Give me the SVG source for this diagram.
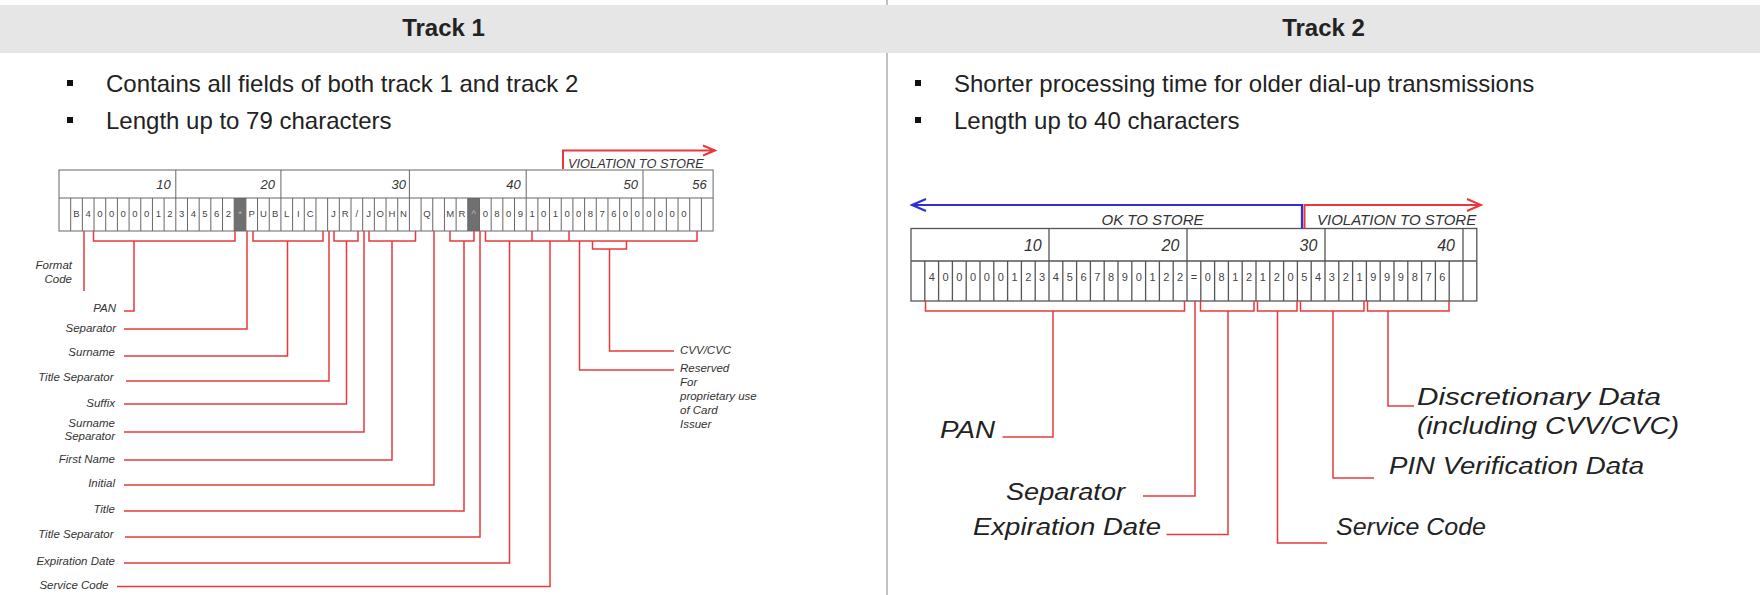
<svg xmlns="http://www.w3.org/2000/svg" width="1760" height="595" viewBox="0 0 1760 595">
<style>
.bg{fill:#ffffff}
.band{fill:#e6e6e6}
.title{font-family:"Liberation Sans",Arial,sans-serif;font-weight:bold;font-size:24px;fill:#222;text-anchor:middle}
.bul{font-family:"Liberation Sans",Arial,sans-serif;font-size:24px;fill:#222}
.sq{fill:#111}
.grid{fill:none;stroke:#666;stroke-width:1}
.gridb{fill:none;stroke:#555;stroke-width:1.3}
.dark{fill:#707070}
.c1{font-family:"Liberation Sans",Arial,sans-serif;font-size:9.5px;fill:#444;text-anchor:middle}
.c1d{font-family:"Liberation Sans",Arial,sans-serif;font-size:9.5px;fill:#bbb;text-anchor:middle}
.h1{font-family:"Liberation Sans",Arial,sans-serif;font-style:italic;font-size:13px;fill:#333;text-anchor:end}
.c2{font-family:"Liberation Sans",Arial,sans-serif;font-size:11px;fill:#444;text-anchor:middle}
.h2{font-family:"Liberation Sans",Arial,sans-serif;font-style:italic;font-size:16px;fill:#333;text-anchor:end}
.l1{font-family:"Liberation Sans",Arial,sans-serif;font-style:italic;font-size:11.5px;fill:#333;text-anchor:end}
.l1s{font-family:"Liberation Sans",Arial,sans-serif;font-style:italic;font-size:11.5px;fill:#333}
.l2{font-family:"Liberation Sans",Arial,sans-serif;font-style:italic;font-size:24.5px;fill:#222;text-anchor:end}
.l2s{font-family:"Liberation Sans",Arial,sans-serif;font-style:italic;font-size:24.5px;fill:#222}
.v1{font-family:"Liberation Sans",Arial,sans-serif;font-style:italic;font-size:12.8px;fill:#333}
.v2{font-family:"Liberation Sans",Arial,sans-serif;font-style:italic;font-size:15px;fill:#333}
.red{fill:none;stroke:#e8383d;stroke-width:1.5}
.blue{fill:none;stroke:#2f2fd8;stroke-width:2.2}
.redA{fill:none;stroke:#e8383d;stroke-width:2}
</style>
<rect class="bg" x="0" y="0" width="1760" height="595"/>
<line x1="887" y1="0" x2="887" y2="595" stroke="#999" stroke-width="1.2"/>
<g id="header">
<rect class="band" x="0" y="5" width="1760" height="48"/>
<text class="title" x="443.5" y="36">Track 1</text>
<text class="title" x="1323.5" y="36">Track 2</text>
</g>
<g id="track1-bullets">
<rect class="sq" x="67" y="80" width="6" height="6"/>
<text class="bul" x="106" y="91.5">Contains all fields of both track 1 and track 2</text>
<rect class="sq" x="67" y="117" width="6" height="6"/>
<text class="bul" x="106" y="128.5">Length up to 79 characters</text>
</g>
<g id="track2-bullets">
<rect class="sq" x="915" y="80" width="6" height="6"/>
<text class="bul" x="954" y="91.5">Shorter processing time for older dial-up transmissions</text>
<rect class="sq" x="915" y="117" width="6" height="6"/>
<text class="bul" x="954" y="128.5">Length up to 40 characters</text>
</g>
<g id="track1-grid">
<rect class="dark" x="234.2" y="198" width="11.68" height="33"/>
<rect class="dark" x="467.8" y="198" width="11.68" height="33"/>
<rect class="grid" x="59" y="170" width="654.1" height="61"/>
<path class="grid" d="M59,198H713.1M175.8,170V198M280.92,170V198M409.4,170V198M526.2,170V198M643,170V198"/>
<path class="grid" d="M70.68,198V231M82.36,198V231M94.04,198V231M105.72,198V231M117.4,198V231M129.08,198V231M140.76,198V231M152.44,198V231M164.12,198V231M175.8,198V231M187.48,198V231M199.16,198V231M210.84,198V231M222.52,198V231M234.2,198V231M245.88,198V231M257.56,198V231M269.24,198V231M280.92,198V231M292.6,198V231M304.28,198V231M315.96,198V231M327.64,198V231M339.32,198V231M351,198V231M362.68,198V231M374.36,198V231M386.04,198V231M397.72,198V231M409.4,198V231M421.08,198V231M432.76,198V231M444.44,198V231M456.12,198V231M467.8,198V231M479.48,198V231M491.16,198V231M502.84,198V231M514.52,198V231M526.2,198V231M537.88,198V231M549.56,198V231M561.24,198V231M572.92,198V231M584.6,198V231M596.28,198V231M607.96,198V231M619.64,198V231M631.32,198V231M643,198V231M654.68,198V231M666.36,198V231M678.04,198V231M689.72,198V231M701.4,198V231"/>
<text class="h1" x="170.7" y="188.5">10</text>
<text class="h1" x="275" y="188.5">20</text>
<text class="h1" x="406" y="188.5">30</text>
<text class="h1" x="520.7" y="188.5">40</text>
<text class="h1" x="638" y="188.5">50</text>
<text class="h1" x="706.7" y="188.5">56</text>
<text class="c1" y="217" x="76.52 88.2 99.88 111.56 123.24 134.92 146.6 158.28 169.96 181.64 193.32 205 216.68 228.36">B4000001234562</text>
<text class="c1" y="217" x="251.72 263.4 275.08 286.76 298.44 310.12">PUBLIC</text>
<text class="c1" y="217" x="333.48 345.16 356.84 368.52 380.2 391.88 403.56">JR/JOHN</text>
<text class="c1" y="217" x="426.92">Q</text>
<text class="c1" y="217" x="450.28 461.96">MR</text>
<text class="c1" y="217" x="485.32 497 508.68 520.36">0809</text>
<text class="c1" y="217" x="532.04 543.72 555.4 567.08 578.76 590.44 602.12 613.8 625.48 637.16">1010087600</text>
<text class="c1" y="217" x="648.84 660.52 672.2 683.88">0000</text>
<text class="c1d" y="217" x="240.04">*</text>
<text class="c1d" y="217" x="473.64">^</text>
</g>
<g id="track1-violation">
<text class="v1" x="568" y="167.5">VIOLATION TO STORE</text>
</g>
<g id="track1-labels">
<text class="l1" x="72" y="269">Format</text>
<text class="l1" x="72" y="283">Code</text>
<text class="l1" x="116" y="311.5">PAN</text>
<text class="l1" x="116" y="331.5">Separator</text>
<text class="l1" x="115" y="356">Surname</text>
<text class="l1" x="113.5" y="381">Title Separator</text>
<text class="l1" x="115" y="406.5">Suffix</text>
<text class="l1" x="115" y="427">Surname</text>
<text class="l1" x="115" y="439.5">Separator</text>
<text class="l1" x="115" y="463">First Name</text>
<text class="l1" x="115" y="486.5">Initial</text>
<text class="l1" x="115" y="512.5">Title</text>
<text class="l1" x="113.5" y="538">Title Separator</text>
<text class="l1" x="115" y="565">Expiration Date</text>
<text class="l1" x="108.5" y="589">Service Code</text>
<text class="l1s" x="680" y="353.5">CVV/CVC</text>
<text class="l1s" x="680" y="371.5">Reserved</text>
<text class="l1s" x="680" y="385.7">For</text>
<text class="l1s" x="680" y="399.8">proprietary use</text>
<text class="l1s" x="680" y="414">of Card</text>
<text class="l1s" x="680" y="428">Issuer</text>
</g>
<g id="track2-grid">
<rect class="gridb" x="911" y="228.5" width="565.8" height="72.5"/>
<path class="gridb" d="M911,261H1476.8M1049,228.5V261M1187,228.5V261M1325,228.5V261M1463,228.5V261"/>
<path class="gridb" d="M924.8,261V301M938.6,261V301M952.4,261V301M966.2,261V301M980,261V301M993.8,261V301M1007.6,261V301M1021.4,261V301M1035.2,261V301M1049,261V301M1062.8,261V301M1076.6,261V301M1090.4,261V301M1104.2,261V301M1118,261V301M1131.8,261V301M1145.6,261V301M1159.4,261V301M1173.2,261V301M1187,261V301M1200.8,261V301M1214.6,261V301M1228.4,261V301M1242.2,261V301M1256,261V301M1269.8,261V301M1283.6,261V301M1297.4,261V301M1311.2,261V301M1325,261V301M1338.8,261V301M1352.6,261V301M1366.4,261V301M1380.2,261V301M1394,261V301M1407.8,261V301M1421.6,261V301M1435.4,261V301M1449.2,261V301M1463,261V301"/>
<text class="h2" x="1041.7" y="250.5">10</text>
<text class="h2" x="1179.3" y="250.5">20</text>
<text class="h2" x="1317.3" y="250.5">30</text>
<text class="h2" x="1455" y="250.5">40</text>
<text class="c2" y="281" x="931.7 945.5 959.3 973.1 986.9 1000.7 1014.5 1028.3 1042.1">400000123</text>
<text class="c2" y="281" x="1055.9 1069.7 1083.5 1097.3 1111.1 1124.9 1138.7 1152.5 1166.3 1180.1">4567890122</text>
<text class="c2" y="281" x="1193.9 1207.7 1221.5 1235.3 1249.1 1262.9 1276.7 1290.5 1304.3 1318.1">=081212054</text>
<text class="c2" y="281" x="1331.9 1345.7 1359.5 1373.3 1387.1 1400.9 1414.7 1428.5 1442.3">321999876</text>
</g>
<g id="track2-store">
<text class="v2" x="1101.5" y="225">OK TO STORE</text>
<text class="v2" x="1317" y="225">VIOLATION TO STORE</text>
</g>
<g id="track2-labels">
<text class="l2" x="995" y="438" textLength="55" lengthAdjust="spacingAndGlyphs">PAN</text>
<text class="l2" x="1125" y="499.5" textLength="119" lengthAdjust="spacingAndGlyphs">Separator</text>
<text class="l2" x="1161" y="535" textLength="188" lengthAdjust="spacingAndGlyphs">Expiration Date</text>
<text class="l2s" x="1336" y="535" textLength="150" lengthAdjust="spacingAndGlyphs">Service Code</text>
<text class="l2s" x="1389" y="473.5" textLength="255" lengthAdjust="spacingAndGlyphs">PIN Verification Data</text>
<text class="l2s" x="1417" y="405" textLength="244" lengthAdjust="spacingAndGlyphs">Discretionary Data</text>
<text class="l2s" x="1417" y="433.5" textLength="262" lengthAdjust="spacingAndGlyphs">(including CVV/CVC)</text>
</g>
<g id="connectors">
<path class="redA" d="M563,169V150.5H715M703,145.5L715,150.5L703,155.5"/>
<path class="red" d="M84,231V291"/>
<path class="red" d="M93.5,231V241H235V231M134,241V311H124"/>
<path class="red" d="M247,231V329H124"/>
<path class="red" d="M253,231V241H323V231M287.5,241V356H124"/>
<path class="red" d="M329,231V381H126"/>
<path class="red" d="M334,231V241H358V231M346.5,241V404H124"/>
<path class="red" d="M364,231V432H124"/>
<path class="red" d="M369,231V241H415.5V231M392,241V460H124"/>
<path class="red" d="M434,231V485H124"/>
<path class="red" d="M450,231V241H474V231M464,241V511H124"/>
<path class="red" d="M480,231V537H125"/>
<path class="red" d="M485.5,231V241H697V231M532,231V241M569,231V241"/>
<path class="red" d="M509.5,241V563H124"/>
<path class="red" d="M550,241V586.5H117"/>
<path class="red" d="M579.5,241V370H674"/>
<path class="red" d="M592.5,241V249H626.5V241M609.5,249V351H674"/>
<path class="blue" d="M1302,228.5V205H912M926,199L912,205L926,211"/>
<path class="redA" d="M1304.5,228.5V205H1481M1467,199L1481,205L1467,211"/>
<path class="red" d="M925.5,301V311H1184.5V301M1053,311V437H1002.5"/>
<path class="red" d="M1195,301V496H1143"/>
<path class="red" d="M1200.5,301V311H1254V301M1228,311V534.5H1166.5"/>
<path class="red" d="M1257.5,301V311H1297V301M1277.5,311V543H1327"/>
<path class="red" d="M1300.5,301V311H1364V301M1333,311V478H1374"/>
<path class="red" d="M1367.5,301V311H1449V301M1388,311V406H1414"/>
</g>
</svg>
